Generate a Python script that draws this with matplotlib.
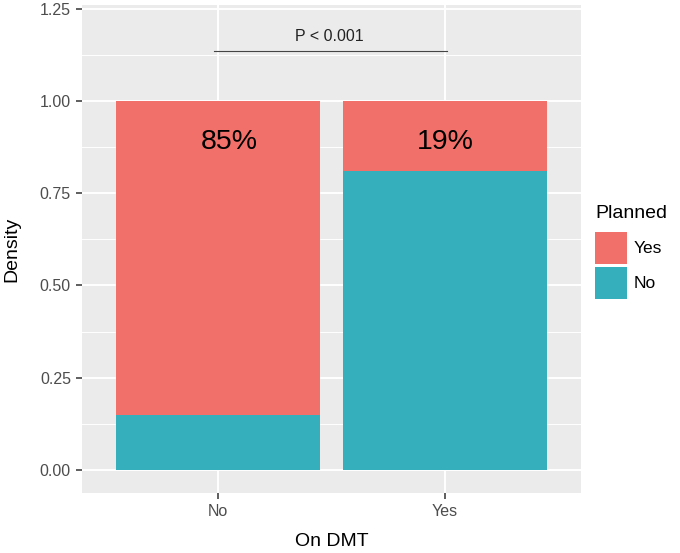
import numpy as np
import matplotlib
matplotlib.use("Agg")
import matplotlib.pyplot as plt
from matplotlib.patches import Patch

# --- data ---
groups = ["No", "Yes"]            # On DMT
share_no = [0.15, 0.81]           # Planned = No (bottom)
share_yes = [0.85, 0.19]          # Planned = Yes (top)
pct_labels = ["85%", "19%"]
p_text = "P < 0.001"

RED = "#F2706A"
TEAL = "#35AFBB"
PANEL = "#ECEBEB"
GREY = "#4D4D4D"

plt.rcParams["font.family"] = ["Liberation Sans", "DejaVu Sans"]

fig = plt.figure(figsize=(6.8, 5.53), dpi=100)
ax = fig.add_axes([82 / 680, 1 - 493 / 553, (581 - 82) / 680, (493 - 5) / 553])
ax.set_facecolor(PANEL)

x = np.arange(1, len(groups) + 1)
ax.bar(x, share_no, width=0.9, color=TEAL, zorder=2)
ax.bar(x, share_yes, width=0.9, bottom=share_no, color=RED, zorder=2)

# annotations
for xi, lab in zip([x[0] + 0.05, x[1]], pct_labels):
    ax.text(xi, 0.89, lab, ha="center", va="center", fontsize=20.5,
            color="black", zorder=3)
ax.plot([0.98, 2.01], [1.135, 1.135], color="#444444", lw=0.8, zorder=3)
ax.text(1.49, 1.175, p_text, ha="center", va="center", fontsize=11.5,
        color="#222222", zorder=3)

ax.set_xlim(0.4, 2.6)
ax.set_ylim(-0.0625, 1.26)
yt = [0, 0.25, 0.5, 0.75, 1.0, 1.25]
ax.set_yticks(yt, [f"{v:.2f}" for v in yt])
ax.set_yticks([0.125, 0.375, 0.625, 0.875, 1.125], minor=True)
ax.set_xticks(x, groups)

ax.grid(which="major", color="white", lw=1.4, zorder=0)
ax.grid(which="minor", axis="y", color="white", lw=0.7, zorder=0)
ax.set_axisbelow(True)
for s in ax.spines.values():
    s.set_visible(False)
ax.tick_params(which="major", length=4, width=1.1, color="#333333",
               labelcolor=GREY, labelsize=11.5, pad=4)
ax.tick_params(which="minor", length=0)

ax.set_xlabel("On DMT", fontsize=14, labelpad=10)
ax.set_ylabel("Density", fontsize=14, labelpad=14)

handles = [Patch(facecolor=RED, label="Yes"), Patch(facecolor=TEAL, label="No")]
leg = fig.legend(handles=handles, title="Planned", loc="upper left",
                 bbox_to_anchor=(595 / 680, 1 - 205 / 553), frameon=False,
                 fontsize=12.5, title_fontsize=14, handlelength=1.85,
                 handleheight=2.5, labelspacing=0.15, handletextpad=0.35,
                 borderpad=0, borderaxespad=0)
leg._legend_box.align = "left"
leg._legend_box.sep = 7

fig.savefig("out.png", dpi=100)
